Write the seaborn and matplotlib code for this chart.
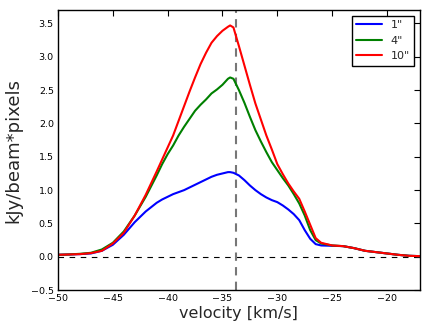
import numpy as np
import pandas as pd
import matplotlib
matplotlib.use("Agg")
import matplotlib.pyplot as plt
import seaborn as sns

velocity = [-50, -49, -48, -47, -46, -45, -44, -43, -42, -41, -40.5, -40, -39.5, -39,
            -38.5, -38, -37.5, -37, -36.5, -36, -35.5, -35, -34.5, -34.3, -34, -33.5,
            -33, -32.5, -32, -31.5, -31, -30.5, -30, -29.5, -29, -28.5, -28, -27.5,
            -27, -26.5, -26, -25, -24, -23, -22, -21, -20, -19, -18, -17]

flux_1 = [0.03, 0.035, 0.04, 0.05, 0.09, 0.18, 0.33, 0.52, 0.68, 0.81, 0.86, 0.90,
          0.94, 0.97, 1.00, 1.04, 1.08, 1.12, 1.16, 1.20, 1.23, 1.25, 1.27, 1.27,
          1.26, 1.22, 1.15, 1.07, 1.00, 0.94, 0.89, 0.85, 0.82, 0.77, 0.71, 0.64,
          0.55, 0.40, 0.27, 0.19, 0.17, 0.165, 0.16, 0.13, 0.09, 0.07, 0.05, 0.03,
          0.015, 0.01]

flux_4 = [0.03, 0.035, 0.045, 0.06, 0.11, 0.21, 0.38, 0.62, 0.90, 1.22, 1.39, 1.54,
          1.67, 1.82, 1.95, 2.07, 2.19, 2.28, 2.36, 2.45, 2.51, 2.58, 2.67, 2.69,
          2.67, 2.50, 2.31, 2.10, 1.90, 1.73, 1.57, 1.42, 1.30, 1.18, 1.07, 0.94,
          0.80, 0.62, 0.40, 0.25, 0.20, 0.17, 0.16, 0.13, 0.09, 0.07, 0.05, 0.03,
          0.015, 0.01]

flux_10 = [0.03, 0.035, 0.04, 0.055, 0.09, 0.20, 0.36, 0.62, 0.93, 1.28, 1.46, 1.64,
           1.82, 2.04, 2.26, 2.48, 2.69, 2.89, 3.06, 3.21, 3.31, 3.39, 3.45, 3.47,
           3.44, 3.16, 2.87, 2.58, 2.30, 2.06, 1.82, 1.61, 1.39, 1.24, 1.10, 0.98,
           0.87, 0.68, 0.48, 0.28, 0.21, 0.17, 0.16, 0.13, 0.09, 0.07, 0.05, 0.03,
           0.015, 0.01]

labels = ['1"', '4"', '10"']
colors = ["#0000ff", "#008000", "#ff0000"]
v_peak = -33.8

df = pd.concat([
    pd.DataFrame({"velocity": velocity, "flux": f, "beam": lab})
    for f, lab in zip([flux_1, flux_4, flux_10], labels)
])

sns.set_style("white")
plt.rcParams["font.family"] = ["DejaVu Sans"]

fig = plt.figure(figsize=(4.36, 3.26), dpi=100)
ax = fig.add_axes([0.133, 0.110, 0.830, 0.859])

sns.lineplot(data=df, x="velocity", y="flux", hue="beam", hue_order=labels,
             palette=colors, linewidth=1.5, ax=ax, sort=False)

ax.axhline(0, color="black", linestyle="--", linewidth=0.8, dashes=(5, 5), zorder=0)
ax.axvline(v_peak, color="#777777", linestyle="--", linewidth=1.5, dashes=(4, 3), zorder=0)

ax.set_xlim(-50, -17)
ax.set_ylim(-0.5, 3.7)
ax.set_xticks([-50, -45, -40, -35, -30, -25, -20])
ax.set_yticks([-0.5, 0.0, 0.5, 1.0, 1.5, 2.0, 2.5, 3.0, 3.5])
ax.tick_params(direction="in", length=4, width=0.8, top=True, right=True,
               labelsize=6.8, colors="black", pad=3)
for s in ax.spines.values():
    s.set_color("black")
    s.set_linewidth(1.0)

ax.set_xlabel("velocity [km/s]", fontsize=11.5, labelpad=2)
ax.set_ylabel("kJy/beam*pixels", fontsize=13, labelpad=6)

leg = ax.legend(loc="upper right", fontsize=8, frameon=True, fancybox=False,
                edgecolor="black", framealpha=1, borderaxespad=0.5,
                handlelength=2.3, title=None)
leg.get_frame().set_linewidth(1.0)

fig.savefig("out.png", dpi=100)
